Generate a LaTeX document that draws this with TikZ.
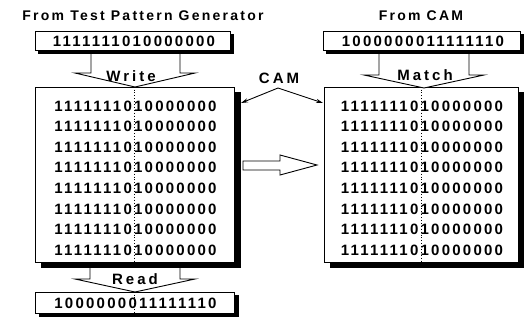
\documentclass[tikz,border=0pt]{standalone}
\usepackage{fontspec}
\newfontfamily\dgfont{Liberation Sans}[LetterSpace=15]
\newfontfamily\hdfont{Liberation Sans}[LetterSpace=16]
\newfontfamily\lbfont{Liberation Sans}[LetterSpace=20]
\usetikzlibrary{arrows.meta}
\begin{document}
\begin{tikzpicture}[x=1pt,y=-1pt,
  digits/.style={font=\dgfont\bfseries\fontsize{15}{20.6}\selectfont, inner sep=0pt},
  head/.style={font=\hdfont\bfseries\fontsize{14}{16}\selectfont, inner sep=0pt},
  lab/.style={font=\lbfont\bfseries\fontsize{15}{16}\selectfont, inner sep=0pt},
  box/.style={draw, fill=white, line width=0.8pt, inner sep=0pt},
  shadowbox/.style={draw=black, fill=black, line width=0.8pt, inner sep=0pt},
  blockarrow/.style={draw, fill=white, line width=0.9pt, line join=miter},
  divider/.style={dotted, line width=0.9pt},
  camarrow/.style={-{Stealth[length=7pt,width=4pt]}, line width=0.9pt}
]
\useasboundingbox (0,0) rectangle (524,322);

% headers
\node[head] (h1) at (143,16) {From Test Pattern Generator};
\node[head] (h2) at (421,16) {From CAM};

% shadows (black copies, offset right and down)
\node[shadowbox, minimum width=195pt, minimum height=19pt] (tls) at (135.5,43.5) {};
\node[shadowbox, minimum width=197pt, minimum height=19pt] (trs) at (424.5,43.5) {};
\node[shadowbox, minimum width=199pt, minimum height=175pt] (Ls) at (140.5,179.5) {};
\node[shadowbox, minimum width=194pt, minimum height=175pt] (Rs) at (427,179.5) {};
\node[shadowbox, minimum width=199pt, minimum height=21pt] (Bs) at (138.5,305.5) {};

% top boxes
\node[box, minimum width=195pt, minimum height=19pt] (tl) at (132.5,40.5) {};
\node[digits] (tlt) at (134,41) {1111111010000000};
\node[box, minimum width=197pt, minimum height=19pt] (tr) at (421.5,40.5) {};
\node[digits] (trt) at (423,41) {1000000011111110};

% big boxes
\node[box, minimum width=199pt, minimum height=175pt] (L) at (134.5,174.5) {};
\node[box, minimum width=194pt, minimum height=175pt] (R) at (421,174.5) {};

% bottom box
\node[box, minimum width=199pt, minimum height=21pt] (B) at (134.5,302.5) {};

% dividers
\draw[divider] (L.north) -- (L.south);
\draw[divider] (R.north) -- (R.south);
\draw[divider] (B.north) -- (B.south);

% rows
\node[digits, align=center] (Lt) at (135.5,178) {1111111010000000\\1111111010000000\\1111111010000000\\1111111010000000\\1111111010000000\\1111111010000000\\1111111010000000\\1111111010000000};
\node[digits, align=center] (Rt) at (422,178) {1111111010000000\\1111111010000000\\1111111010000000\\1111111010000000\\1111111010000000\\1111111010000000\\1111111010000000\\1111111010000000};
\node[digits] (Bt) at (135.5,303) {1000000011111110};

% block arrows
\draw[blockarrow] (91,54) -- (91,73) -- (75,73) -- (135,87) -- (195,73) -- (180,73) -- (180,54);
\node[lab] (w) at (131,76) {Write};
\draw[blockarrow] (379,54) -- (379,75) -- (364,75) -- (424,88) -- (484,75) -- (469,75) -- (469,54);
\node[lab] (m) at (425,75) {Match};
\draw[blockarrow] (90,268) -- (90,279) -- (75,279) -- (135,292) -- (195,279) -- (180,279) -- (180,268);
\node[lab] (r) at (135,279) {Read};

% hollow arrow between boxes
\draw[blockarrow] (243,161) -- (280,161) -- (280,155) -- (317,165) -- (280,175) -- (280,170) -- (243,170) -- cycle;

% CAM label
\node[lab] (cam) at (279,78) {CAM};
\coordinate (cj) at (278,88);
\coordinate (ca) at (241,103);
\coordinate (cb) at (323,103);
\draw[camarrow] (cj) -- (ca);
\draw[camarrow] (cj) -- (cb);
\end{tikzpicture}
\end{document}
